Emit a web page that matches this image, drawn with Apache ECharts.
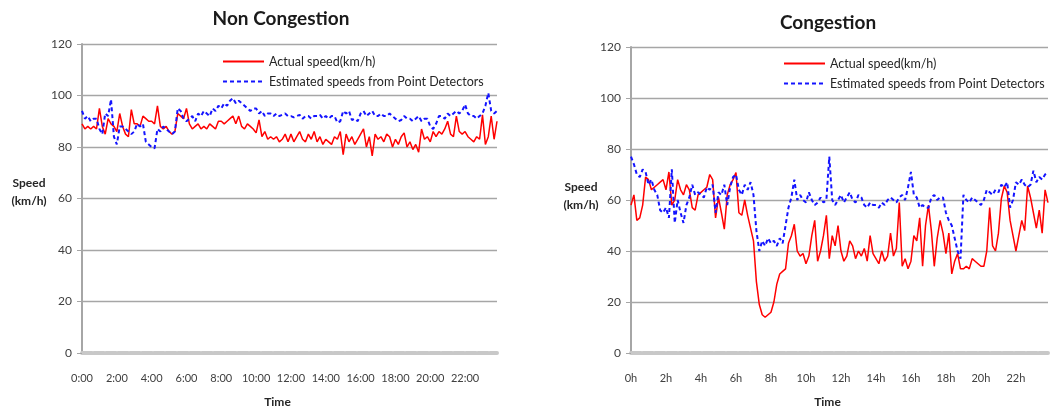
<!DOCTYPE html>
<html><head><meta charset="utf-8">
<script src="https://cdn.jsdelivr.net/npm/echarts@6/dist/echarts.min.js"></script>
<style>html,body{margin:0;padding:0;background:#fff}#c{width:1051px;height:413px}</style>
</head><body><div id="c"></div>
<script>
// 10-minute time slots over one day (categories)
const timeSlots = [];
for (let h = 0; h < 24; h++) { for (let m = 0; m < 60; m += 10) { timeSlots.push(h + ':' + (m < 10 ? '0' : '') + m); } }

const nonCongTickLabels = ['0:00','2:00','4:00','6:00','8:00','10:00','12:00','14:00','16:00','18:00','20:00','22:00'];
const congTickLabels = ['0h','2h','4h','6h','8h','10h','12h','14h','16h','18h','20h','22h'];
const seriesNames = ['Actual speed(km/h)', 'Estimated speeds from Point Detectors'];

// Non congestion
const nonCongActual = [
89,87,88,87,88,87,
95,88,85,91,89,88,
86,93,88,85,84,94.5,
89,89,88,92,91,90,
90,89,96,88,87,88,
86,85,86,93,92,91,
95,89,87,88,89,87,
88,87,89,88,87,90,
90,89,90,91,92,89,
92,88,87,89,88,87,
85.5,90.5,84,86,83,84,
83,84,82,83,85,82,
85,82,84,86,83,82,
85,83,86,82,84,81,
83,82,81,84,83,86,
77,85,82,84,81,83,
85,87,80,84,76.5,85,
83,84,82,85,84,80,
83,81,84,85.5,80,82,
79,81,78,87,83,84,
82,86,84,86,85,87,
90,85,84,92,86,85,
86,84,83,82,84,83,
92.5,81,84,92,83,90];
const nonCongEstimated = [
94,91,92,90,91,91,
87,85,93,92,98.5,84,
81,88,88,87,86,85,
86,89,88,89,82,81,
80,79.5,87,86,88,87,
86,85,86,95,94,91,
90,91,92,90,93,92,
94,93,92,95,94,96,
95,97,96,98,99,97,
98,97,96,95,94,95,
95,93,94,92,93,93,
92,93,92,92.5,93,92,
92,91.5,92,92.5,91,92,
92,91,92,92,92.5,91,
92,91,92,92,89.5,90,
94,93,94,90.5,91,90,
93,94,92,93,94,92,
92,93,92,92,93,92,
91,90,90.5,92,91,91,
90,91,92,90,91,91,
88,87,89,92,92,91,
93,92,93,94,93,94,
96.5,93,92,92,91,92,
93,96,101,94,93,94];

// Congestion
const congActual = [
58,62,52,53,58,69,
68,64,65,66,67,68,
64,71,58,60,68,64,
62,66,64,57,56,62,
63,64,65,70,68,53,
61,55,48.6,62,66,68,
70.8,55,54,60,54,49,
44,28,19,15,14,15,
16,20,27,31,32,33,
43,46,50.5,40,38,39,
35,38,46,52,36,40,
46,54,37,46,42,50,
40,36,38,44,42,37,
40,38,41,36,46,39,
37,35,40,36,38,47,
38,41,59,34,37,33,
36,46,44,53,34,50,
58,48,34,45,52,47,
39,47,31,36,39,33,
33,34,33,37,36,35,
34,34,40,57,42,40,
47,60.5,65.5,63,52,46,
40,46,52,48,65.5,61,
55,49,56,47,64,59];
const congEstimated = [
77,74,70,69,72,71,
66,68,64,62,56,55,
57,53,72,51,60,55,
51,58,61,66,62,63,
62,61,65,64,66,55,
63,62,66,58,65,69,
70,64,62,66,64,67,
62,48,40,44,42,45,
43,44,42,45,43,50,
57,61,68,60,62,60,
59,63,60,58,59,61,
59,60,77,60,58,60,
62,59,61,63,60,59,
62,61,58,57,59,58,
58,57,59,58,60,61,
60,59,61,62,60,65,
71,62,61,57,58,57,
57,61,62,60,61,61,
55,52,50,45,40,37,
62,60,59,61,60,59,
58,60,64,63,62,64,
63,66,65,67,57,60,
67,66,68,66,65,66,
71.5,67,69,68,70,71];

const FONT = 'Lato';
const GRID_GRAY = '#a6a6a6';
const LABEL_COLOR = '#404040';

function xAxisFor(gridIndex, ticks) {
  return {
    type: 'category', gridIndex: gridIndex, data: timeSlots, boundaryGap: false, offset: 2,
    axisLine: { show: true, lineStyle: { color: '#c8c8c8', width: 4, type: [10, 2] } },
    axisTick: { show: false },
    axisLabel: { interval: 11, margin: 18, color: LABEL_COLOR, fontSize: 11, fontFamily: FONT,
      formatter: function (v, idx) { return ticks[Math.round(idx / 12)]; } },
    name: 'Time', nameLocation: 'middle', nameGap: 41,
    nameTextStyle: { fontWeight: 'bold', fontSize: 12, color: '#262626', fontFamily: FONT, padding: [0, 24, 0, 0] },
    splitLine: { show: false }
  };
}
function yAxisFor(gridIndex) {
  return {
    type: 'value', gridIndex: gridIndex, min: 0, max: 120, interval: 20,
    axisLine: { show: true, lineStyle: { color: GRID_GRAY, width: 2 } },
    axisTick: { show: true, length: 5, lineStyle: { color: GRID_GRAY, width: 1 } },
    axisLabel: { color: LABEL_COLOR, fontSize: 12, fontFamily: FONT, margin: 10 },
    splitLine: { show: true, lineStyle: { color: GRID_GRAY, width: 1.3 } }
  };
}
function legendFor(left, top) {
  return {
    orient: 'vertical', left: left, top: top, padding: 0, itemWidth: 41, itemHeight: 12, itemGap: 7,
    data: seriesNames, selectedMode: false,
    itemStyle: { opacity: 0 },
    textStyle: { fontSize: 12.5, color: '#262626', fontFamily: FONT }
  };
}
function lineSeries(name, data, idx, isEst) {
  return {
    name: name, type: 'line', xAxisIndex: idx, yAxisIndex: idx, data: data,
    symbol: 'none', showSymbol: false, smooth: false,
    lineStyle: isEst ? { color: '#1414ff', width: 2, type: [4, 3] } : { color: '#ff0000', width: 1.5 },
    itemStyle: { color: isEst ? '#1414ff' : '#ff0000' }
  };
}
function yNameText(x, y) {
  return {
    type: 'text', x: x, y: y,
    style: { text: 'Speed\n(km/h)', textAlign: 'center', textVerticalAlign: 'middle', lineHeight: 18,
      font: 'bold 12px ' + FONT, fill: '#262626' }
  };
}

const chart = echarts.init(document.getElementById('c'), null, { renderer: 'canvas' });
chart.setOption({
  animation: false,
  backgroundColor: '#fff',
  textStyle: { fontFamily: FONT },
  title: [
    { text: 'Non Congestion', left: 276, top: 4, textAlign: 'center', textStyle: { fontSize: 19, fontWeight: 'bold', color: '#1a1a1a', fontFamily: FONT } },
    { text: 'Congestion', left: 823, top: 8, textAlign: 'center', textStyle: { fontSize: 19, fontWeight: 'bold', color: '#1a1a1a', fontFamily: FONT } }
  ],
  graphic: [yNameText(29, 192), yNameText(581, 196)],
  legend: [legendFor(222, 55), legendFor(783, 57)],
  grid: [
    { left: 82, right: 554, top: 44, bottom: 58 },
    { left: 631, right: 3, top: 47, bottom: 56 }
  ],
  xAxis: [xAxisFor(0, nonCongTickLabels), xAxisFor(1, congTickLabels)],
  yAxis: [yAxisFor(0), yAxisFor(1)],
  series: [
    lineSeries(seriesNames[0], nonCongActual, 0, false),
    lineSeries(seriesNames[1], nonCongEstimated, 0, true),
    lineSeries(seriesNames[0], congActual, 1, false),
    lineSeries(seriesNames[1], congEstimated, 1, true)
  ]
});
</script></body></html>
